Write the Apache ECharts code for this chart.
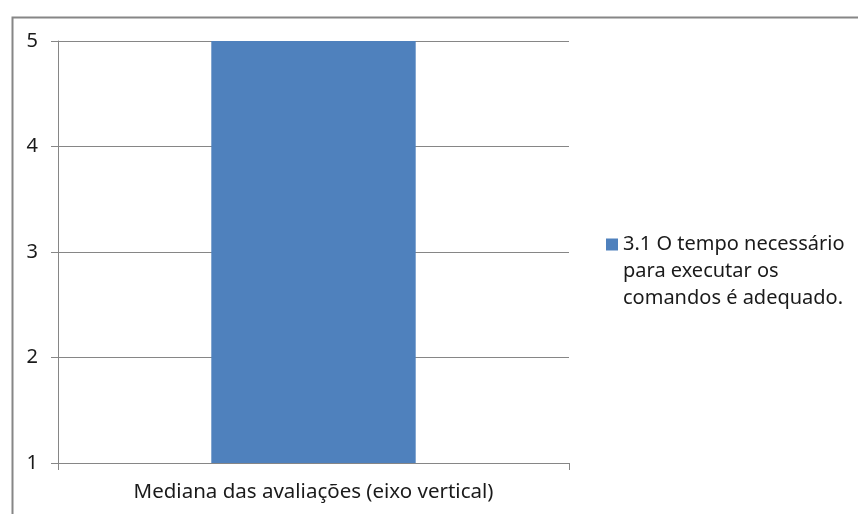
<!DOCTYPE html>
<html>
<head>
<meta charset="utf-8">
<script src="https://cdn.jsdelivr.net/npm/echarts@6/dist/echarts.min.js"></script>
<style>
  html, body { margin: 0; padding: 0; background: #ffffff; }
  #chart { width: 858px; height: 514px; }
</style>
</head>
<body>
<div id="chart"></div>
<script>
// Single-category column chart: median of the ratings on a 1–5 scale
const categories = ['Mediana das avaliações (eixo vertical)'];
const seriesName = '3.1 O tempo necessário para executar os comandos é adequado.';
const legendLines = ['3.1 O tempo necessário', 'para executar os', 'comandos é adequado.'];
const medianValues = [5];
const yTicks = [1, 2, 3, 4, 5];

const FONT = 'Noto Sans';
const GRAY = '#868686';
const TEXT = '#1a1a1a';

const chart = echarts.init(document.getElementById('chart'), null, { renderer: 'canvas' });

chart.setOption({
  animation: false,
  backgroundColor: '#ffffff',
  textStyle: { fontFamily: FONT },
  graphic: [{
    type: 'rect',
    left: 10, top: 15,
    shape: { width: 847, height: 520 },
    style: { fill: 'none', stroke: GRAY, lineWidth: 2 },
    silent: true
  }],
  grid: { left: 58, right: 289, top: 41, bottom: 51, containLabel: false },
  legend: {
    left: 606,
    top: 177,
    padding: 0,
    orient: 'vertical',
    icon: 'rect',
    itemWidth: 12,
    itemHeight: 12,
    itemGap: 0,
    // two blank lines on top keep the square beside the first line
    formatter: () => '\n\n' + legendLines.join('\n'),
    textStyle: {
      fontFamily: FONT, fontSize: 20, color: TEXT,
      lineHeight: 27
    }
  },
  xAxis: {
    type: 'category',
    data: categories,
    axisLine: { show: true, lineStyle: { color: GRAY, width: 1 } },
    axisTick: { show: true, length: 7, alignWithLabel: false, lineStyle: { color: GRAY } },
    axisLabel: { margin: 19, fontSize: 20.5, color: TEXT, fontFamily: FONT }
  },
  yAxis: {
    type: 'value',
    min: yTicks[0],
    max: yTicks[yTicks.length - 1],
    interval: 1,
    axisLine: { show: true, lineStyle: { color: GRAY, width: 1 } },
    axisTick: { show: true, length: 7, lineStyle: { color: GRAY } },
    axisLabel: { margin: 20, fontSize: 20, color: TEXT, fontFamily: FONT },
    splitLine: { show: true, lineStyle: { color: GRAY, width: 1 } }
  },
  series: [{
    name: seriesName,
    type: 'bar',
    data: medianValues,
    barWidth: '40%',
    itemStyle: { color: '#4F81BD' }
  }]
});
</script>
</body>
</html>
